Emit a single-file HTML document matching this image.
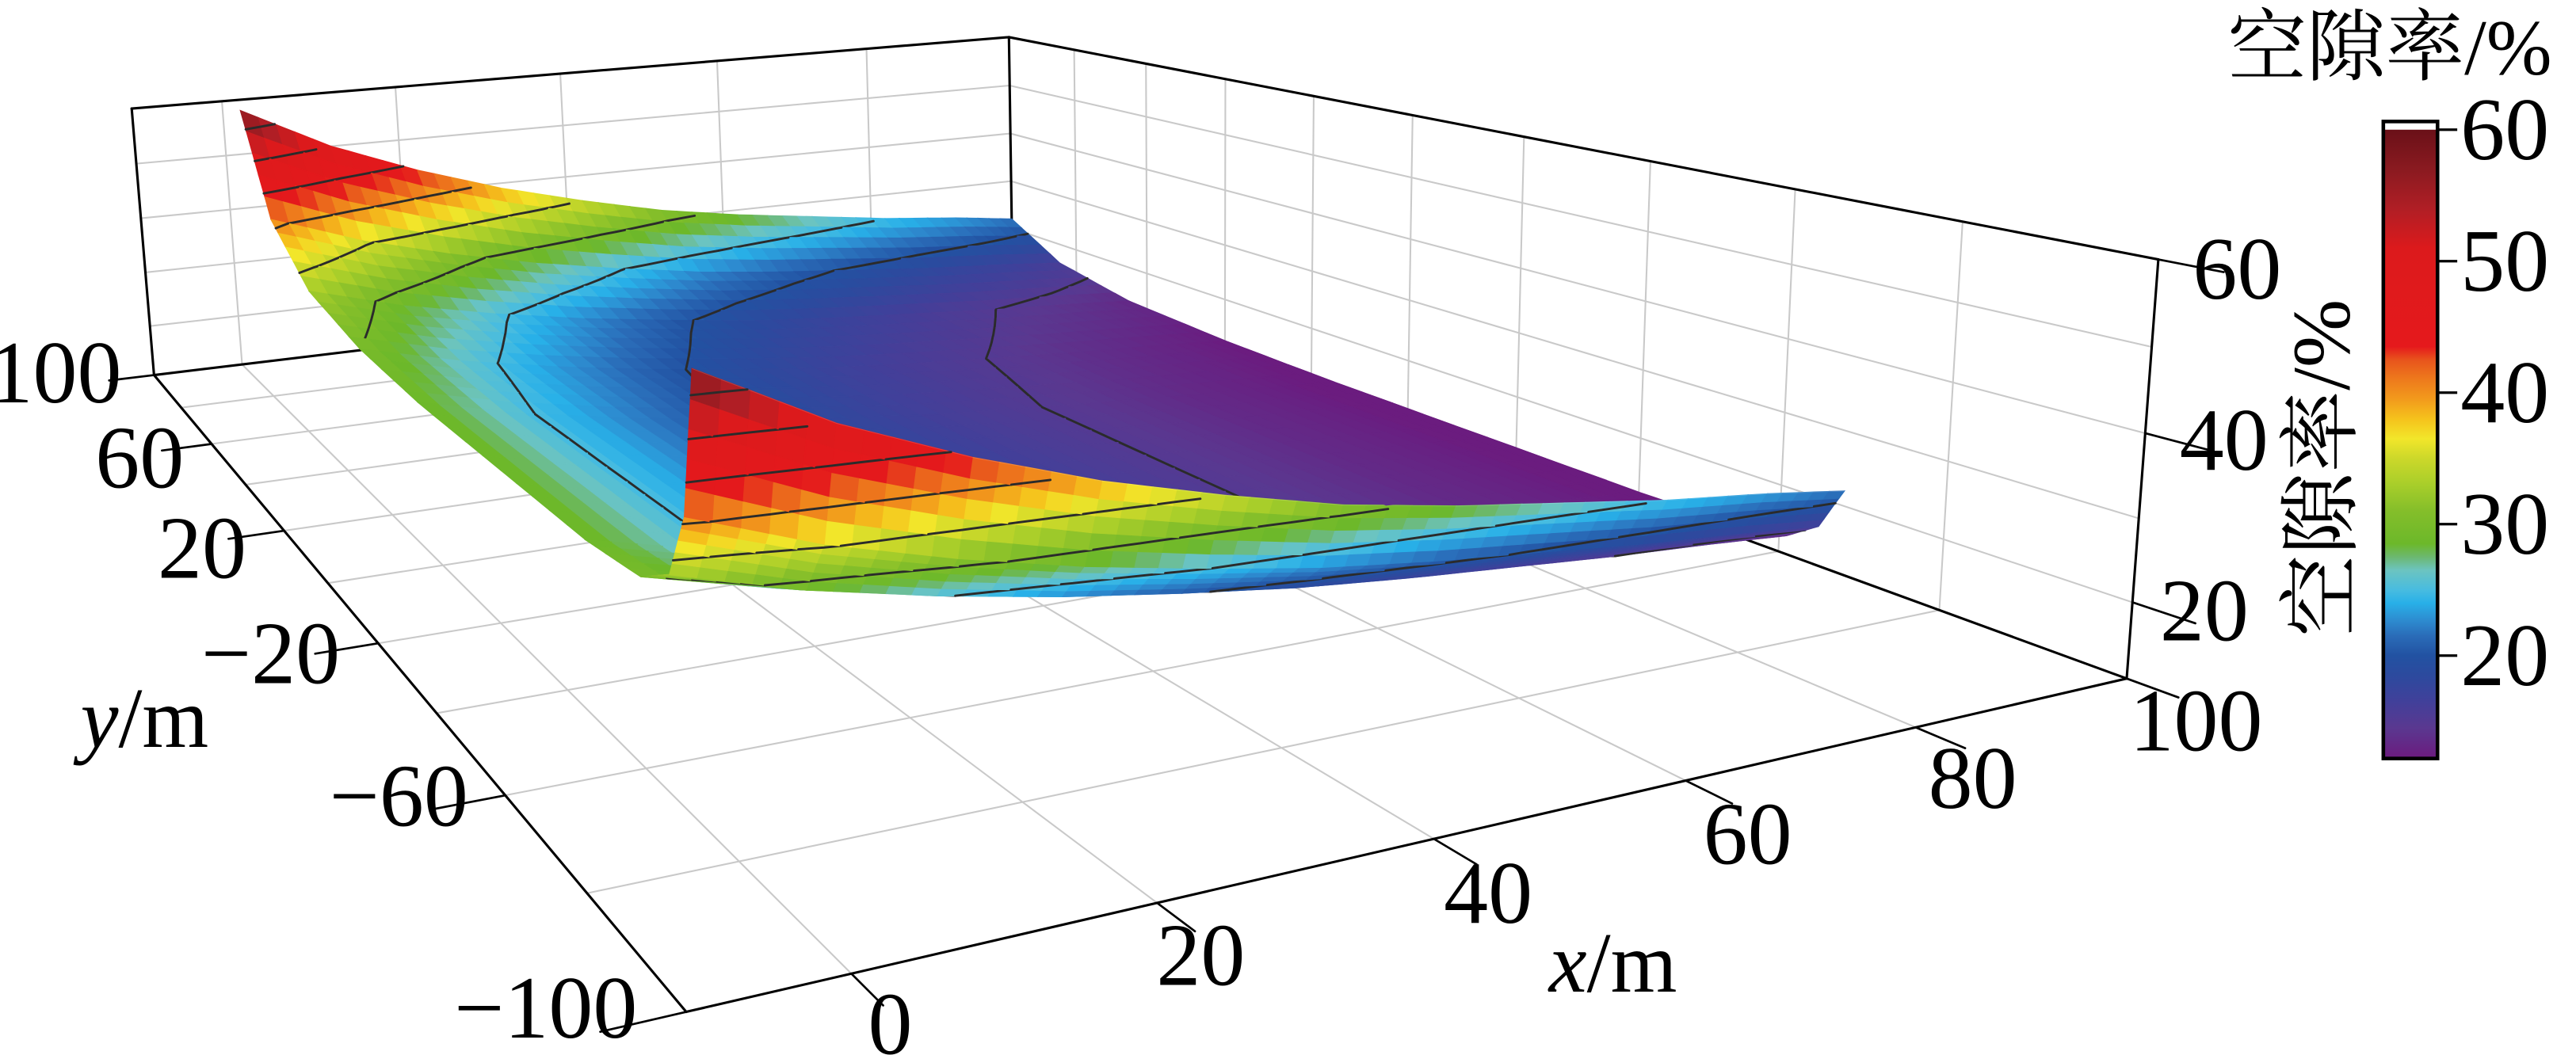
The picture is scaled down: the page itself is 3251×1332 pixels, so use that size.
<!DOCTYPE html>
<html><head><meta charset="utf-8"><style>
html,body{margin:0;padding:0;background:#fff;}
svg{display:block;}
text{font-family:"Liberation Serif","Noto Serif CJK SC",serif;fill:#000;}
</style></head><body>
<svg id="chart" xmlns="http://www.w3.org/2000/svg" width="3251" height="1332" viewBox="0 0 1568.3 642.6" preserveAspectRatio="none">
<defs><linearGradient id="cbGrad" x1="0" y1="1" x2="0" y2="0"></linearGradient></defs>
<g id="gridLayer"></g>
<g id="axesLayer"></g>
<g id="surfaceLayer"></g>
<g id="labelLayer">
  <text x="88" y="455" font-size="52" text-anchor="middle"><tspan font-style="italic">y</tspan>/m</text>
  <text x="982" y="604" font-size="52" text-anchor="middle"><tspan font-style="italic">x</tspan>/m</text>
  <text transform="translate(1430,285) rotate(-90)" font-size="50" text-anchor="middle">空隙率/%</text>
  <text x="1455" y="45" font-size="48" text-anchor="middle">空隙率/%</text>
</g>
<g id="cbLayer"></g>
</svg>
<script>
// ---- chart data ----
const xTicks = [0, 20, 40, 60, 80, 100];
const yTicks = [100, 60, 20, -20, -60, -100];
const zTicks = [20, 40, 60];
const cbTicks = [20, 30, 40, 50, 60];
// surface profile samples
const surfX = [2, 12, 22, 32, 42, 52, 62, 72, 82, 92, 100];
const backEdgeZ = [58, 50, 44, 39, 35, 31.5, 29, 27, 25, 23.5, 22];
const surfY = [-68, -65, -61, -54, -40, -15, 15, 40, 65, 85, 100];
const leftEdgeZ = [58, 41, 33, 30, 29, 29, 29, 30, 33, 41, 58];
const interiorZ = 12;

const NS = "http://www.w3.org/2000/svg";
const zBot = 10.8, zTop = 60, xLo = -10, xHi = 100, yLo = -100, yHi = 100;

// camera calibration correspondences (data -> screen)
const calib = [
 [-10,100,10.8,94,228],[-10,-100,10.8,413,616],
 [-10,60,10.8,130,271],[-10,20,10.8,173,324],[-10,-20,10.8,230,392],[-10,-60,10.8,307,484],
 [0,-100,10.8,518,592],[20,-100,10.8,706,549],[40,-100,10.8,875,510],[60,-100,10.8,1029,475],[80,-100,10.8,1167,443],[100,-100,10.8,1294,413],
 [100,100,10.8,615,167],
 [-10,100,60,80,67],[100,100,60,615,20],[100,-100,60,1313,161],[100,-100,40,1306,265],[100,-100,20,1298,366]
];
function fitCamera(pts){
  const N=11, M=[], r=new Array(N).fill(0);
  for(let i=0;i<N;i++) M.push(new Array(N).fill(0));
  for(const p of pts){
    const x=p[0]/100,y=p[1]/100,z=p[2]/50,U=p[3]/1000,V=p[4]/1000;
    const rows=[[[x,y,z,1,0,0,0,0,-U*x,-U*y,-U*z],U],[[0,0,0,0,x,y,z,1,-V*x,-V*y,-V*z],V]];
    for(const [row,b] of rows){
      for(let i=0;i<N;i++){ r[i]+=row[i]*b; for(let k=0;k<N;k++) M[i][k]+=row[i]*row[k]; }
    }
  }
  for(let c=0;c<N;c++){
    let piv=c; for(let i=c+1;i<N;i++) if(Math.abs(M[i][c])>Math.abs(M[piv][c])) piv=i;
    [M[c],M[piv]]=[M[piv],M[c]]; [r[c],r[piv]]=[r[piv],r[c]];
    for(let i=0;i<N;i++){ if(i===c) continue; const f=M[i][c]/M[c][c];
      for(let k=c;k<N;k++) M[i][k]-=f*M[c][k]; r[i]-=f*r[c]; }
  }
  return r.map((v,i)=>v/M[i][i]);
}
const P = fitCamera(calib);
function proj(X,Y,Z){
  const x=X/100,y=Y/100,z=Z/50;
  const d=P[8]*x+P[9]*y+P[10]*z+1;
  return [(P[0]*x+P[1]*y+P[2]*z+P[3])/d*1000,(P[4]*x+P[5]*y+P[6]*z+P[7])/d*1000];
}

// colormap
const cmStops=[[12.3,'#6b1c7f'],[14.5,'#5a3890'],[16.5,'#41409a'],[18.5,'#2c4a9e'],[20,'#2252a2'],[21.5,'#2a6cb8'],[22.7,'#2d8cd0'],[24,'#28b0e8'],[25,'#48bce0'],[26.5,'#6cc4c0'],[27.5,'#6cb870'],[28.5,'#6cb82a'],[31,'#84be2a'],[33,'#a8ce2a'],[35,'#ccd82a'],[36.5,'#f2e62a'],[38,'#f5c21c'],[39.5,'#f29a1c'],[41,'#ee7a1c'],[42.5,'#e8541c'],[43.5,'#e5191c'],[51,'#dc1a1c'],[54,'#b01e25'],[57,'#8a1a20'],[60,'#6a1018']];
function hex(c){return [parseInt(c.slice(1,3),16),parseInt(c.slice(3,5),16),parseInt(c.slice(5,7),16)];}
function cmap(v){
  if(v<=cmStops[0][0]) return cmStops[0][1];
  for(let i=1;i<cmStops.length;i++){
    if(v<=cmStops[i][0]){const a=hex(cmStops[i-1][1]),b=hex(cmStops[i][1]);
      const t=(v-cmStops[i-1][0])/(cmStops[i][0]-cmStops[i-1][0]);
      return 'rgb('+a.map((q,k)=>Math.round(q+(b[k]-q)*t)).join(',')+')';}
  }
  return cmStops[cmStops.length-1][1];
}
function interp(xs,ys,v){
  if(v<=xs[0]) return ys[0];
  for(let i=1;i<xs.length;i++) if(v<=xs[i]){const t=(v-xs[i-1])/(xs[i]-xs[i-1]);return ys[i-1]+(ys[i]-ys[i-1])*t;}
  return ys[ys.length-1];
}
const bMin=Math.min(...backEdgeZ), bMax=Math.max(...backEdgeZ);
const lMin=Math.min(...leftEdgeZ), lMax=Math.max(...leftEdgeZ);
function surfZ(x,y){
  const fx=(interp(surfX,backEdgeZ,x)-bMin)/(bMax-bMin);
  const fy=(interp(surfY,leftEdgeZ,y)-lMin)/(lMax-lMin);
  const a=bMin-interiorZ, b=lMin-interiorZ, c=bMax-interiorZ-a-b;
  return interiorZ+a*fy+b*fx+c*fx*fy;
}

function line(parent,p,q,color,w,name){
  const a=proj(...p),b=proj(...q);
  const el=document.createElementNS(NS,'line');
  el.setAttribute('x1',a[0]);el.setAttribute('y1',a[1]);el.setAttribute('x2',b[0]);el.setAttribute('y2',b[1]);
  el.setAttribute('stroke',color);el.setAttribute('stroke-width',w);el.setAttribute('stroke-linecap','round');
  
  
  parent.appendChild(el);
}
function label(parent,x,y,str,size,anchor,name){
  const t=document.createElementNS(NS,'text');
  t.setAttribute('x',x);t.setAttribute('y',y);t.setAttribute('font-size',size);t.setAttribute('text-anchor',anchor);
  t.textContent=str;
  
  
  parent.appendChild(t);
}

// ---- gridlines ----
const G=document.getElementById('gridLayer'), gc='#c9c9c9';
const xGrid=[0,20,40,60,80], yGrid=[80,60,40,20,0,-20,-40,-60,-80], zGrid=[20,30,40,50];
xGrid.forEach(x=>{ line(G,[x,yLo,zBot],[x,yHi,zBot],gc,1,'floor-grid-x'); line(G,[x,yHi,zBot],[x,yHi,zTop],gc,1,'back-wall-grid-x'); });
yGrid.forEach(y=>{ line(G,[xLo,y,zBot],[xHi,y,zBot],gc,1,'floor-grid-y'); line(G,[xHi,y,zBot],[xHi,y,zTop],gc,1,'side-wall-grid-y'); });
zGrid.forEach(z=>{ line(G,[xLo,yHi,z],[xHi,yHi,z],gc,1,'back-wall-grid-z'); line(G,[xHi,yHi,z],[xHi,yLo,z],gc,1,'side-wall-grid-z'); });

// ---- axes box ----
const A=document.getElementById('axesLayer'), ak='#000';
[[[xLo,yHi,zBot],[xLo,yLo,zBot]],[[xLo,yLo,zBot],[xHi,yLo,zBot]],[[xHi,yLo,zBot],[xHi,yLo,zTop]],
 [[xLo,yHi,zBot],[xLo,yHi,zTop]],[[xHi,yHi,zBot],[xHi,yHi,zTop]],[[xLo,yHi,zTop],[xHi,yHi,zTop]],
 [[xHi,yHi,zTop],[xHi,yLo,zTop]],[[xLo,yHi,zBot],[xHi,yHi,zBot]],[[xHi,yHi,zBot],[xHi,yLo,zBot]]
].forEach(s=>line(A,s[0],s[1],ak,1.5,'axis-box-edge'));
yTicks.forEach(y=>line(A,[xLo,y,zBot],[xLo-5,y,zBot],ak,1.3,'y-tick'));
xTicks.forEach(x=>line(A,[x,yLo,zBot],[x,yLo-5,zBot],ak,1.3,'x-tick'));
zTicks.forEach(z=>line(A,[xHi,yLo,z],[xHi,yLo-6,z],ak,1.3,'z-tick'));

// tick labels
const L=document.getElementById('labelLayer');
const yLabPos=[[74,245],[112,297],[150,352],[207,416],[285,503],[388,632]];
yTicks.forEach((v,i)=>label(L,yLabPos[i][0],yLabPos[i][1],v<0?'\u2212'+(-v):String(v),54,'end','y-tick-label'));
const xLabPos=[[542,642],[731,600],[906,562],[1064,526],[1201,492],[1337,457]];
xTicks.forEach((v,i)=>label(L,xLabPos[i][0],xLabPos[i][1],String(v),54,'middle','x-tick-label'));
const zLabPos=[[1362,182],[1354,286],[1342,390]];
[60,40,20].forEach((v,i)=>label(L,zLabPos[i][0],zLabPos[i][1],String(v),54,'middle','z-tick-label'));

// ---- surface ----
const S=document.getElementById('surfaceLayer');
const gx=[],gy=[],Z=[];
const sub=5;
for(let k=0;k<surfX.length-1;k++) for(let s=0;s<sub;s++) gx.push(surfX[k]+(surfX[k+1]-surfX[k])*s/sub);
gx.push(surfX[surfX.length-1]);
for(let k=0;k<surfY.length-1;k++) for(let s=0;s<sub;s++) gy.push(surfY[k]+(surfY[k+1]-surfY[k])*s/sub);
gy.push(surfY[surfY.length-1]);
const nx=gx.length-1, ny=gy.length-1;
for(let j=0;j<=ny;j++){Z.push([]);for(let i=0;i<=nx;i++) Z[j].push(surfZ(gx[i],gy[j]));}
const levels=[15,20,25,30,35,40,45,50,55];
function drawCell(i,j){
  const c=[[gx[i],gy[j],Z[j][i]],[gx[i+1],gy[j],Z[j][i+1]],[gx[i+1],gy[j+1],Z[j+1][i+1]],[gx[i],gy[j+1],Z[j+1][i]]];
  const pts=c.map(q=>proj(...q).map(v=>v.toFixed(1)).join(',')).join(' ');
  const zm=(c[0][2]+c[1][2]+c[2][2]+c[3][2])/4;
  const poly=document.createElementNS(NS,'polygon');
  poly.setAttribute('points',pts);
  poly.setAttribute('fill',cmap(zm));
  poly.setAttribute('stroke',cmap(zm));
  poly.setAttribute('stroke-width','0.7');
  
  
  S.appendChild(poly);
  let segs='';
  levels.forEach(lv=>{
    const hits=[];
    for(let e=0;e<4;e++){const a=c[e],b=c[(e+1)%4];
      if((a[2]-lv)*(b[2]-lv)<0){const t=(lv-a[2])/(b[2]-a[2]);
        hits.push(proj(a[0]+(b[0]-a[0])*t,a[1]+(b[1]-a[1])*t,lv));}}
    for(let h=0;h+1<hits.length;h+=2) segs+='M'+hits[h][0].toFixed(1)+','+hits[h][1].toFixed(1)+'L'+hits[h+1][0].toFixed(1)+','+hits[h+1][1].toFixed(1);
  });
  return segs;
}
function addContour(segs){
  if(!segs) return;
  const cp=document.createElementNS(NS,'path');
  cp.setAttribute('d',segs);cp.setAttribute('fill','none');cp.setAttribute('stroke','#2b2b2b');cp.setAttribute('stroke-width','1.4');cp.setAttribute('stroke-linecap','round');
  
  
  S.appendChild(cp);
}
for(let j=ny-1;j>=0;j--){
  let segs='';
  for(let i=0;i<nx;i++) segs+=drawCell(i,j);
  let mesh='';
  for(let i=0;i<=nx;i++){const p=proj(gx[i],gy[j],Z[j][i]);mesh+=(i?'L':'M')+p[0].toFixed(1)+','+p[1].toFixed(1);}
  const mp=document.createElementNS(NS,'path');
  mp.setAttribute('d',mesh);mp.setAttribute('fill','none');mp.setAttribute('stroke','rgba(255,255,255,0.15)');mp.setAttribute('stroke-width','0.5');
  
  
  S.appendChild(mp);
  addContour(segs);
}
// second pass: low interior sheet overlapping the front wall (as in the source rendering)
for(let j=ny-1;j>=0;j--){
  if(gy[j]<-35) continue;
  let segs='';
  for(let i=0;i<nx;i++){
    if(gx[i]<24) continue;
    const zc=(Z[j][i]+Z[j][i+1]+Z[j+1][i]+Z[j+1][i+1])/4;
    if(zc<14) segs+=drawCell(i,j);
  }
  addContour(segs);
}

// ---- colorbar ----
const C=document.getElementById('cbLayer');
const grad=document.getElementById('cbGrad');
const cbLo=12.3, cbHi=60, cbY0=461, cbY1=79, cbX=1452, cbW=31;
cmStops.forEach(s=>{const st=document.createElementNS(NS,'stop');
  st.setAttribute('offset',((s[0]-cbLo)/(cbHi-cbLo)).toFixed(4));st.setAttribute('stop-color',s[1]);grad.appendChild(st);});
function cbY(v){return cbY0+(cbY1-cbY0)*(v-cbLo)/(cbHi-cbLo);}
const bar=document.createElementNS(NS,'rect');
bar.setAttribute('x',cbX);bar.setAttribute('y',cbY1);bar.setAttribute('width',cbW);bar.setAttribute('height',cbY0-cbY1);bar.setAttribute('fill','url(#cbGrad)');


C.appendChild(bar);
const frame=document.createElementNS(NS,'rect');
frame.setAttribute('x',cbX-1);frame.setAttribute('y',cbY1-5);frame.setAttribute('width',cbW+2);frame.setAttribute('height',cbY0-cbY1+6);
frame.setAttribute('fill','none');frame.setAttribute('stroke','#000');frame.setAttribute('stroke-width','2.2');


C.appendChild(frame);
cbTicks.forEach(v=>{
  const y=cbY(v);
  const tk=document.createElementNS(NS,'line');
  tk.setAttribute('x1',cbX+cbW+1);tk.setAttribute('x2',cbX+cbW+13);tk.setAttribute('y1',y);tk.setAttribute('y2',y);
  tk.setAttribute('stroke','#000');tk.setAttribute('stroke-width','1.6');
  
  
  C.appendChild(tk);
  label(C,1525,y+18,String(v),54,'middle','colorbar-tick-label');
});
</script>
</body></html>
